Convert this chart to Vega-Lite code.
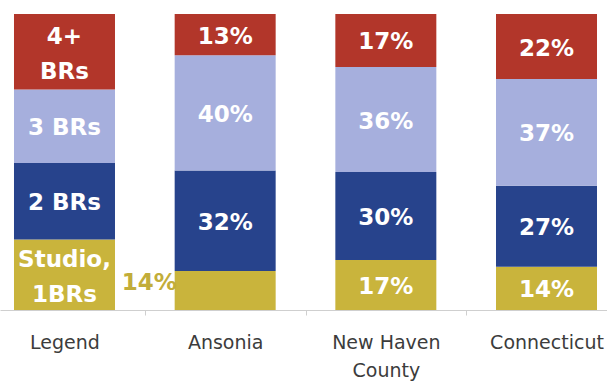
{
  "$schema": "https://vega.github.io/schema/vega-lite/v6.json",
  "autosize": "none",
  "width": 607,
  "height": 296,
  "padding": {"left": 0, "right": 0, "top": 14, "bottom": 72},
  "background": "white",
  "config": {"view": {"stroke": null}},
  "data": {
    "values": [
      {"region": "Legend", "cat": "Studio, 1BRs", "k": 1, "value": 23.7, "label": "Studio,\n1BRs"},
      {"region": "Legend", "cat": "2 BRs", "k": 2, "value": 25.8, "label": "2 BRs"},
      {"region": "Legend", "cat": "3 BRs", "k": 3, "value": 24.7, "label": "3 BRs"},
      {"region": "Legend", "cat": "4+ BRs", "k": 4, "value": 25.4, "label": "4+\nBRs"},
      {"region": "Ansonia", "cat": "Studio, 1BRs", "k": 1, "value": 13.2, "label": "14%"},
      {"region": "Ansonia", "cat": "2 BRs", "k": 2, "value": 33.9, "label": "32%"},
      {"region": "Ansonia", "cat": "3 BRs", "k": 3, "value": 39.0, "label": "40%"},
      {"region": "Ansonia", "cat": "4+ BRs", "k": 4, "value": 13.9, "label": "13%"},
      {"region": "New Haven County", "cat": "Studio, 1BRs", "k": 1, "value": 16.9, "label": "17%"},
      {"region": "New Haven County", "cat": "2 BRs", "k": 2, "value": 29.7, "label": "30%"},
      {"region": "New Haven County", "cat": "3 BRs", "k": 3, "value": 35.5, "label": "36%"},
      {"region": "New Haven County", "cat": "4+ BRs", "k": 4, "value": 17.9, "label": "17%"},
      {"region": "Connecticut", "cat": "Studio, 1BRs", "k": 1, "value": 14.6, "label": "14%"},
      {"region": "Connecticut", "cat": "2 BRs", "k": 2, "value": 27.4, "label": "27%"},
      {"region": "Connecticut", "cat": "3 BRs", "k": 3, "value": 36.0, "label": "37%"},
      {"region": "Connecticut", "cat": "4+ BRs", "k": 4, "value": 22.0, "label": "22%"}
    ]
  },
  "encoding": {
    "x": {
      "field": "region",
      "type": "nominal",
      "sort": ["Legend", "Ansonia", "New Haven County", "Connecticut"],
      "scale": {"range": [0, 611], "paddingInner": 0.3714, "paddingOuter": 0.0871},
      "axis": {
        "title": null,
        "labelAngle": 0,
        "labelFont": "DejaVu Sans",
        "labelFontSize": 19,
        "labelColor": "#3c3c3c",
        "labelPadding": 18,
        "labelLineHeight": 28,
        "labelExpr": "datum.label == 'New Haven County' ? ['New Haven', 'County'] : datum.label",
        "domainColor": "#cfcfcf",
        "tickColor": "#cfcfcf",
        "tickSize": 5,
        "tickOffset": -80.3,
        "labelOffset": 80.3,
        "labelOverlap": false,
        "labelBound": false
      }
    },
    "y": {
      "field": "value",
      "type": "quantitative",
      "stack": "normalize",
      "axis": null
    },
    "order": {"field": "k", "type": "quantitative"}
  },
  "layer": [
    {
      "mark": {"type": "bar"},
      "encoding": {
        "color": {
          "field": "cat",
          "type": "nominal",
          "scale": {
            "domain": ["Studio, 1BRs", "2 BRs", "3 BRs", "4+ BRs"],
            "range": ["#c9b43c", "#27438c", "#a6afdd", "#b2362a"]
          },
          "legend": null
        }
      }
    },
    {
      "mark": {"type": "text", "font": "DejaVu Sans", "fontWeight": "bold", "fontSize": 23, "color": "white", "baseline": "middle", "dy": 2},
      "encoding": {
        "y": {"field": "value", "type": "quantitative", "stack": "normalize", "bandPosition": 0.5},
        "detail": {"field": "cat"},
        "text": {
          "condition": {"test": "(datum.region == 'Ansonia' && datum.k == 1) || indexof(datum.label, '\\n') >= 0", "value": ""},
          "field": "label"
        }
      }
    },
    {
      "mark": {"type": "text", "font": "DejaVu Sans", "fontWeight": "bold", "fontSize": 23, "color": "white", "lineBreak": "\n", "lineHeight": 35, "baseline": "middle", "dy": -15},
      "encoding": {
        "y": {"field": "value", "type": "quantitative", "stack": "normalize", "bandPosition": 0.5},
        "detail": {"field": "cat"},
        "text": {
          "condition": {"test": "indexof(datum.label, '\\n') >= 0", "field": "label"},
          "value": ""
        }
      }
    },
    {
      "mark": {"type": "text", "font": "DejaVu Sans", "fontWeight": "bold", "fontSize": 23, "color": "#c2ad3a", "baseline": "middle", "dx": -76, "dy": -7},
      "encoding": {
        "y": {"field": "value", "type": "quantitative", "stack": "normalize", "bandPosition": 0.5},
        "detail": {"field": "cat"},
        "text": {
          "condition": {"test": "datum.region == 'Ansonia' && datum.k == 1", "field": "label"},
          "value": ""
        }
      }
    }
  ]
}
